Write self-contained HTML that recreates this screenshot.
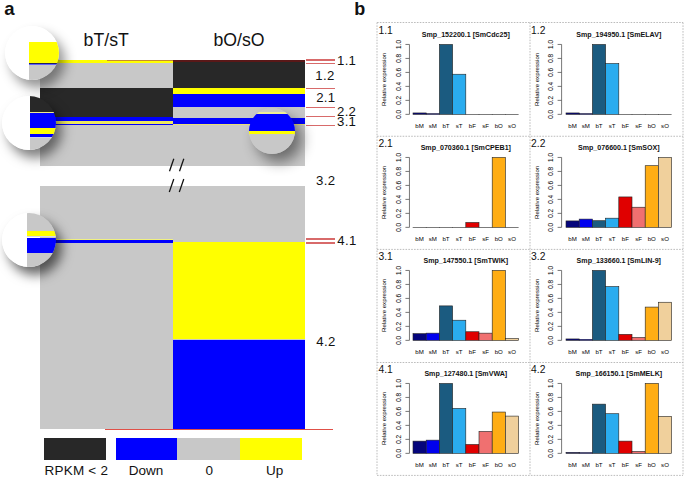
<!DOCTYPE html>
<html><head><meta charset="utf-8"><style>
html,body{margin:0;padding:0;background:#fff;}
body{width:685px;height:480px;position:relative;overflow:hidden;font-family:"Liberation Sans", sans-serif;color:#111;}
</style></head><body>
<div style="position:absolute;left:40px;top:60px;width:265.3px;height:106.3px;background:#c8c8c8;"></div>
<div style="position:absolute;left:40px;top:59.5px;width:132.5px;height:3.3px;background:#ffff00;"></div>
<div style="position:absolute;left:40px;top:88.4px;width:132.5px;height:28.9px;background:#282828;"></div>
<div style="position:absolute;left:40px;top:117.3px;width:132.5px;height:4.1px;background:#0000ff;"></div>
<div style="position:absolute;left:40px;top:121.4px;width:132.5px;height:2.2px;background:#ece860;"></div>
<div style="position:absolute;left:40px;top:123.6px;width:132.5px;height:1.2px;background:#0000ff;"></div>
<div style="position:absolute;left:172.5px;top:59.5px;width:132.8px;height:2.7px;background:#5a1818;"></div>
<div style="position:absolute;left:172.5px;top:62.2px;width:132.8px;height:26.2px;background:#282828;"></div>
<div style="position:absolute;left:172.5px;top:88.4px;width:132.8px;height:5.4px;background:#ffff00;"></div>
<div style="position:absolute;left:172.5px;top:93.8px;width:132.8px;height:0.5px;background:#8080a0;"></div>
<div style="position:absolute;left:172.5px;top:94.3px;width:132.8px;height:12.5px;background:#0000ff;"></div>
<div style="position:absolute;left:172.5px;top:117.5px;width:132.8px;height:6.3px;background:#0000ff;"></div>
<div style="position:absolute;left:172.5px;top:123.7px;width:132.8px;height:1.4px;background:#e8e078;"></div>
<div style="position:absolute;left:107px;top:59.5px;width:65.5px;height:1.3px;background:#c88a30;"></div>
<div style="position:absolute;left:40px;top:186px;width:265.3px;height:243px;background:#c8c8c8;"></div>
<div style="position:absolute;left:40px;top:238.6px;width:132.5px;height:1.0px;background:#f0f080;"></div>
<div style="position:absolute;left:40px;top:239.6px;width:132.5px;height:3.2px;background:#0000ff;"></div>
<div style="position:absolute;left:172.5px;top:242.2px;width:132.8px;height:97.3px;background:#ffff00;"></div>
<div style="position:absolute;left:172.5px;top:339.5px;width:132.8px;height:89.5px;background:#0000ff;"></div>
<div style="position:absolute;left:104.6px;top:428.5px;width:228.1px;height:1.1px;background:#e05048;"></div>
<div style="position:absolute;left:305.9px;top:59.25px;width:28.9px;height:1.3px;background:#d86a6a;"></div>
<div style="position:absolute;left:305.9px;top:63.2px;width:28.9px;height:1.3px;background:#d86a6a;"></div>
<div style="position:absolute;left:305.9px;top:87.85px;width:28.9px;height:1.3px;background:#d86a6a;"></div>
<div style="position:absolute;left:305.9px;top:106.65px;width:28.9px;height:1.3px;background:#d86a6a;"></div>
<div style="position:absolute;left:305.9px;top:115.95px;width:28.9px;height:1.3px;background:#d86a6a;"></div>
<div style="position:absolute;left:305.9px;top:125.05px;width:28.9px;height:1.3px;background:#d86a6a;"></div>
<div style="position:absolute;left:305.9px;top:238.25px;width:28.9px;height:1.3px;background:#d86a6a;"></div>
<div style="position:absolute;left:305.9px;top:242.45px;width:28.9px;height:1.3px;background:#d86a6a;"></div>
<div style="position:absolute;left:4.3px;top:-0.3px;font-size:18.5px;font-weight:bold;line-height:1;white-space:nowrap;">a</div>
<div style="position:absolute;left:83.6px;top:32.0px;font-size:17.7px;font-weight:normal;line-height:1;white-space:nowrap;">bT/sT</div>
<div style="position:absolute;left:213.5px;top:32.0px;font-size:17.7px;font-weight:normal;line-height:1;white-space:nowrap;">bO/sO</div>
<div style="position:absolute;left:337.0px;top:54.4px;font-size:13.2px;font-weight:normal;line-height:1;white-space:nowrap;letter-spacing:0.3px">1.1</div>
<div style="position:absolute;left:315.3px;top:69.4px;font-size:13.2px;font-weight:normal;line-height:1;white-space:nowrap;letter-spacing:0.3px">1.2</div>
<div style="position:absolute;left:316.2px;top:91.4px;font-size:13.2px;font-weight:normal;line-height:1;white-space:nowrap;letter-spacing:0.3px">2.1</div>
<div style="position:absolute;left:337.0px;top:104.6px;font-size:13.2px;font-weight:normal;line-height:1;white-space:nowrap;letter-spacing:0.3px">2.2</div>
<div style="position:absolute;left:337.0px;top:115.2px;font-size:13.2px;font-weight:normal;line-height:1;white-space:nowrap;letter-spacing:0.3px">3.1</div>
<div style="position:absolute;left:316.1px;top:173.9px;font-size:13.2px;font-weight:normal;line-height:1;white-space:nowrap;letter-spacing:0.3px">3.2</div>
<div style="position:absolute;left:337.3px;top:234.0px;font-size:13.2px;font-weight:normal;line-height:1;white-space:nowrap;letter-spacing:0.3px">4.1</div>
<div style="position:absolute;left:316.3px;top:334.8px;font-size:13.2px;font-weight:normal;line-height:1;white-space:nowrap;letter-spacing:0.3px">4.2</div>
<svg style="position:absolute;left:0;top:0" width="685" height="480">
<g stroke="#111" stroke-width="1.25" fill="none">
<line x1="173.8" y1="158.8" x2="169.5" y2="171.2"/>
<line x1="183.8" y1="158.8" x2="179.5" y2="171.2"/>
<line x1="173.8" y1="179" x2="169.3" y2="192"/>
<line x1="183.8" y1="179" x2="179.3" y2="192"/>
</g></svg>
<div style="position:absolute;left:4.6px;top:25.8px;width:54px;height:54px;border-radius:50%;overflow:hidden;background:transparent;box-shadow:6px 8px 12px rgba(0,0,0,0.42)"><div style="position:absolute;left:0;top:0;width:24.6px;height:54px;background:#fff"></div><div style="position:absolute;left:24.6px;top:-5.8px;width:54px;height:21.9px;background:#fff"></div><div style="position:absolute;left:24.6px;top:16.1px;width:54px;height:20.8px;background:#ffff00"></div><div style="position:absolute;left:24.6px;top:36.9px;width:54px;height:1.0px;background:#202060"></div><div style="position:absolute;left:24.6px;top:37.9px;width:54px;height:1.3px;background:#6060ff"></div><div style="position:absolute;left:24.6px;top:39.2px;width:54px;height:25px;background:#c8c8c8"></div></div>
<div style="position:absolute;left:2px;top:96px;width:54px;height:54px;border-radius:50%;overflow:hidden;background:transparent;box-shadow:6px 8px 12px rgba(0,0,0,0.5)"><div style="position:absolute;left:0;top:0;width:28px;height:54px;background:#fff"></div><div style="position:absolute;left:28px;top:-6px;width:54px;height:21.5px;background:#282828"></div><div style="position:absolute;left:28px;top:15.5px;width:54px;height:1.2px;background:#f0ec90"></div><div style="position:absolute;left:28px;top:16.7px;width:54px;height:15.0px;background:#0000ff"></div><div style="position:absolute;left:28px;top:31.9px;width:54px;height:5.7px;background:#ffff00"></div><div style="position:absolute;left:28px;top:37.6px;width:54px;height:3.6px;background:#0000ff"></div><div style="position:absolute;left:28px;top:41.2px;width:54px;height:1.0px;background:#d0d0e8"></div><div style="position:absolute;left:28px;top:42.2px;width:54px;height:21.8px;background:#c8c8c8"></div></div>
<div style="position:absolute;left:1.5px;top:213px;width:54px;height:54px;border-radius:50%;overflow:hidden;background:transparent;box-shadow:6px 8px 12px rgba(0,0,0,0.6)"><div style="position:absolute;left:0;top:0;width:25.5px;height:54px;background:#fff"></div><div style="position:absolute;left:25.5px;top:-13px;width:54px;height:30.8px;background:#c8c8c8"></div><div style="position:absolute;left:25.5px;top:17.8px;width:54px;height:5.5px;background:#ffff00"></div><div style="position:absolute;left:25.5px;top:23.3px;width:54px;height:1.2px;background:#d8d8ea"></div><div style="position:absolute;left:25.5px;top:24.5px;width:54px;height:15.3px;background:#0000ff"></div><div style="position:absolute;left:25.5px;top:39.8px;width:54px;height:27.2px;background:#c8c8c8"></div></div>
<div style="position:absolute;left:248.8px;top:107.8px;width:46.6px;height:46.6px;border-radius:50%;overflow:hidden;background:transparent;box-shadow:7px 8px 14px rgba(0,0,0,0.47)"><div style="position:absolute;left:0;top:-7.8px;width:46.6px;height:12.2px;background:#c8c8c8"></div><div style="position:absolute;left:0;top:4.3px;width:46.6px;height:1.7px;background:#eeee98"></div><div style="position:absolute;left:0;top:6.0px;width:46.6px;height:0.6px;background:#c8c8c8"></div><div style="position:absolute;left:0;top:6.6px;width:46.6px;height:16.9px;background:#0000ff"></div><div style="position:absolute;left:0;top:23.5px;width:46.6px;height:3.3px;background:#ffff00"></div><div style="position:absolute;left:0;top:26.5px;width:46.6px;height:25.7px;background:#c8c8c8"></div></div>
<div style="position:absolute;left:44px;top:438px;width:62.4px;height:21.5px;background:#282828;"></div>
<div style="position:absolute;left:115.5px;top:438px;width:61.6px;height:21.5px;background:#0000ff;"></div>
<div style="position:absolute;left:177.1px;top:438px;width:63px;height:21.5px;background:#c8c8c8;"></div>
<div style="position:absolute;left:240.1px;top:438px;width:61.9px;height:21.5px;background:#ffff00;"></div>
<div style="position:absolute;left:44.6px;top:464.1px;font-size:13.5px;font-weight:normal;line-height:1;white-space:nowrap;letter-spacing:0.2px">RPKM &lt; 2</div>
<div style="position:absolute;left:128.8px;top:464.1px;font-size:13.5px;font-weight:normal;line-height:1;white-space:nowrap;">Down</div>
<div style="position:absolute;left:205.5px;top:464.1px;font-size:13.5px;font-weight:normal;line-height:1;white-space:nowrap;">0</div>
<div style="position:absolute;left:266px;top:464.1px;font-size:13.5px;font-weight:normal;line-height:1;white-space:nowrap;">Up</div>
<div style="position:absolute;left:354.3px;top:0.4px;font-size:18px;font-weight:bold;line-height:1;white-space:nowrap;">b</div>
<svg style="position:absolute;left:0;top:0" width="685" height="480"><g stroke="#bcbcbc" stroke-width="1" stroke-dasharray="1.6 1.25" fill="none">
<line x1="377" y1="22.5" x2="377" y2="475.4"/>
<line x1="530" y1="22.5" x2="530" y2="475.4"/>
<line x1="683" y1="22.5" x2="683" y2="475.4"/>
<line x1="377" y1="22.5" x2="683" y2="22.5"/>
<line x1="377" y1="136.25" x2="683" y2="136.25"/>
<line x1="377" y1="249.4" x2="683" y2="249.4"/>
<line x1="377" y1="362.5" x2="683" y2="362.5"/>
<line x1="377" y1="475.4" x2="683" y2="475.4"/>
</g></svg>
<div style="position:absolute;left:378.5px;top:25.85px;font-size:10.3px;font-weight:normal;line-height:1;white-space:nowrap;">1.1</div>
<div style="position:absolute;left:531.1px;top:25.85px;font-size:10.3px;font-weight:normal;line-height:1;white-space:nowrap;">1.2</div>
<div style="position:absolute;left:378.5px;top:138.85px;font-size:10.3px;font-weight:normal;line-height:1;white-space:nowrap;">2.1</div>
<div style="position:absolute;left:531.1px;top:138.85px;font-size:10.3px;font-weight:normal;line-height:1;white-space:nowrap;">2.2</div>
<div style="position:absolute;left:378.5px;top:251.85px;font-size:10.3px;font-weight:normal;line-height:1;white-space:nowrap;">3.1</div>
<div style="position:absolute;left:531.1px;top:251.85px;font-size:10.3px;font-weight:normal;line-height:1;white-space:nowrap;">3.2</div>
<div style="position:absolute;left:378.5px;top:364.85px;font-size:10.3px;font-weight:normal;line-height:1;white-space:nowrap;">4.1</div>
<div style="position:absolute;left:531.1px;top:364.85px;font-size:10.3px;font-weight:normal;line-height:1;white-space:nowrap;">4.2</div>
<svg style="position:absolute;left:0;top:0" width="685" height="480"><text x="465.8" y="36.5" font-size="7.1" font-weight="bold" text-anchor="middle" fill="#111">Smp_152200.1 [SmCdc25]</text><g stroke="#555" stroke-width="0.8"><line x1="409.45" y1="44.45" x2="409.45" y2="114.35"/><line x1="405.45" y1="114.35" x2="409.45" y2="114.35"/><line x1="405.45" y1="100.37" x2="409.45" y2="100.37"/><line x1="405.45" y1="86.39" x2="409.45" y2="86.39"/><line x1="405.45" y1="72.41" x2="409.45" y2="72.41"/><line x1="405.45" y1="58.43" x2="409.45" y2="58.43"/><line x1="405.45" y1="44.45" x2="409.45" y2="44.45"/></g><text transform="translate(400.95,114.35) rotate(-90)" font-size="6.4" text-anchor="middle" fill="#000">0.0</text><text transform="translate(400.95,100.37) rotate(-90)" font-size="6.4" text-anchor="middle" fill="#000">0.2</text><text transform="translate(400.95,86.39) rotate(-90)" font-size="6.4" text-anchor="middle" fill="#000">0.4</text><text transform="translate(400.95,72.41) rotate(-90)" font-size="6.4" text-anchor="middle" fill="#000">0.6</text><text transform="translate(400.95,58.43) rotate(-90)" font-size="6.4" text-anchor="middle" fill="#000">0.8</text><text transform="translate(400.95,44.45) rotate(-90)" font-size="6.4" text-anchor="middle" fill="#000">1.0</text><text transform="translate(386.45,79.4) rotate(-90)" font-size="6.1" text-anchor="middle" fill="#000">Relative expression</text><rect x="413.0" y="112.95" width="13.2" height="1.4" fill="#05057c" stroke="#222" stroke-width="0.6"/><text x="419.6" y="127.75" font-size="6.1" text-anchor="middle" fill="#000">bM</text><rect x="426.2" y="113.65" width="13.2" height="0.7" fill="#0000ee" stroke="#222" stroke-width="0.6"/><text x="432.8" y="127.75" font-size="6.1" text-anchor="middle" fill="#000">sM</text><rect x="439.4" y="44.45" width="13.2" height="69.9" fill="#1b5b80" stroke="#222" stroke-width="0.6"/><text x="446.0" y="127.75" font-size="6.1" text-anchor="middle" fill="#000">bT</text><rect x="452.6" y="74.23" width="13.2" height="40.12" fill="#2aacef" stroke="#222" stroke-width="0.6"/><text x="459.2" y="127.75" font-size="6.1" text-anchor="middle" fill="#000">sT</text><rect x="465.8" y="114.35" width="13.2" height="0.01" fill="#e00000" stroke="#222" stroke-width="0.6"/><text x="472.4" y="127.75" font-size="6.1" text-anchor="middle" fill="#000">bF</text><rect x="479.0" y="114.35" width="13.2" height="0.01" fill="#f07070" stroke="#222" stroke-width="0.6"/><text x="485.6" y="127.75" font-size="6.1" text-anchor="middle" fill="#000">sF</text><rect x="492.2" y="114.35" width="13.2" height="0.01" fill="#ffad14" stroke="#222" stroke-width="0.6"/><text x="498.8" y="127.75" font-size="6.1" text-anchor="middle" fill="#000">bO</text><rect x="505.4" y="114.35" width="13.2" height="0.01" fill="#f0d09c" stroke="#222" stroke-width="0.6"/><text x="512.0" y="127.75" font-size="6.1" text-anchor="middle" fill="#000">sO</text><text x="618.8" y="36.5" font-size="7.1" font-weight="bold" text-anchor="middle" fill="#111">Smp_194950.1 [SmELAV]</text><g stroke="#555" stroke-width="0.8"><line x1="561.6" y1="44.45" x2="561.6" y2="114.35"/><line x1="557.6" y1="114.35" x2="561.6" y2="114.35"/><line x1="557.6" y1="100.37" x2="561.6" y2="100.37"/><line x1="557.6" y1="86.39" x2="561.6" y2="86.39"/><line x1="557.6" y1="72.41" x2="561.6" y2="72.41"/><line x1="557.6" y1="58.43" x2="561.6" y2="58.43"/><line x1="557.6" y1="44.45" x2="561.6" y2="44.45"/></g><text transform="translate(553.1,114.35) rotate(-90)" font-size="6.4" text-anchor="middle" fill="#000">0.0</text><text transform="translate(553.1,100.37) rotate(-90)" font-size="6.4" text-anchor="middle" fill="#000">0.2</text><text transform="translate(553.1,86.39) rotate(-90)" font-size="6.4" text-anchor="middle" fill="#000">0.4</text><text transform="translate(553.1,72.41) rotate(-90)" font-size="6.4" text-anchor="middle" fill="#000">0.6</text><text transform="translate(553.1,58.43) rotate(-90)" font-size="6.4" text-anchor="middle" fill="#000">0.8</text><text transform="translate(553.1,44.45) rotate(-90)" font-size="6.4" text-anchor="middle" fill="#000">1.0</text><text transform="translate(538.6,79.4) rotate(-90)" font-size="6.1" text-anchor="middle" fill="#000">Relative expression</text><rect x="566.0" y="112.95" width="13.2" height="1.4" fill="#05057c" stroke="#222" stroke-width="0.6"/><text x="572.6" y="127.75" font-size="6.1" text-anchor="middle" fill="#000">bM</text><rect x="579.2" y="113.65" width="13.2" height="0.7" fill="#0000ee" stroke="#222" stroke-width="0.6"/><text x="585.8" y="127.75" font-size="6.1" text-anchor="middle" fill="#000">sM</text><rect x="592.4" y="44.45" width="13.2" height="69.9" fill="#1b5b80" stroke="#222" stroke-width="0.6"/><text x="599.0" y="127.75" font-size="6.1" text-anchor="middle" fill="#000">bT</text><rect x="605.6" y="63.53" width="13.2" height="50.82" fill="#2aacef" stroke="#222" stroke-width="0.6"/><text x="612.2" y="127.75" font-size="6.1" text-anchor="middle" fill="#000">sT</text><rect x="618.8" y="114.35" width="13.2" height="0.01" fill="#e00000" stroke="#222" stroke-width="0.6"/><text x="625.4" y="127.75" font-size="6.1" text-anchor="middle" fill="#000">bF</text><rect x="632.0" y="114.35" width="13.2" height="0.01" fill="#f07070" stroke="#222" stroke-width="0.6"/><text x="638.6" y="127.75" font-size="6.1" text-anchor="middle" fill="#000">sF</text><rect x="645.2" y="114.35" width="13.2" height="0.01" fill="#ffad14" stroke="#222" stroke-width="0.6"/><text x="651.8" y="127.75" font-size="6.1" text-anchor="middle" fill="#000">bO</text><rect x="658.4" y="114.35" width="13.2" height="0.01" fill="#f0d09c" stroke="#222" stroke-width="0.6"/><text x="665.0" y="127.75" font-size="6.1" text-anchor="middle" fill="#000">sO</text><text x="465.8" y="149.5" font-size="7.1" font-weight="bold" text-anchor="middle" fill="#111">Smp_070360.1 [SmCPEB1]</text><g stroke="#555" stroke-width="0.8"><line x1="409.45" y1="157.45" x2="409.45" y2="227.35"/><line x1="405.45" y1="227.35" x2="409.45" y2="227.35"/><line x1="405.45" y1="213.37" x2="409.45" y2="213.37"/><line x1="405.45" y1="199.39" x2="409.45" y2="199.39"/><line x1="405.45" y1="185.41" x2="409.45" y2="185.41"/><line x1="405.45" y1="171.43" x2="409.45" y2="171.43"/><line x1="405.45" y1="157.45" x2="409.45" y2="157.45"/></g><text transform="translate(400.95,227.35) rotate(-90)" font-size="6.4" text-anchor="middle" fill="#000">0.0</text><text transform="translate(400.95,213.37) rotate(-90)" font-size="6.4" text-anchor="middle" fill="#000">0.2</text><text transform="translate(400.95,199.39) rotate(-90)" font-size="6.4" text-anchor="middle" fill="#000">0.4</text><text transform="translate(400.95,185.41) rotate(-90)" font-size="6.4" text-anchor="middle" fill="#000">0.6</text><text transform="translate(400.95,171.43) rotate(-90)" font-size="6.4" text-anchor="middle" fill="#000">0.8</text><text transform="translate(400.95,157.45) rotate(-90)" font-size="6.4" text-anchor="middle" fill="#000">1.0</text><text transform="translate(386.45,192.4) rotate(-90)" font-size="6.1" text-anchor="middle" fill="#000">Relative expression</text><rect x="413.0" y="227.35" width="13.2" height="0.01" fill="#05057c" stroke="#222" stroke-width="0.6"/><text x="419.6" y="240.75" font-size="6.1" text-anchor="middle" fill="#000">bM</text><rect x="426.2" y="227.35" width="13.2" height="0.01" fill="#0000ee" stroke="#222" stroke-width="0.6"/><text x="432.8" y="240.75" font-size="6.1" text-anchor="middle" fill="#000">sM</text><rect x="439.4" y="227.35" width="13.2" height="0.01" fill="#1b5b80" stroke="#222" stroke-width="0.6"/><text x="446.0" y="240.75" font-size="6.1" text-anchor="middle" fill="#000">bT</text><rect x="452.6" y="227.35" width="13.2" height="0.01" fill="#2aacef" stroke="#222" stroke-width="0.6"/><text x="459.2" y="240.75" font-size="6.1" text-anchor="middle" fill="#000">sT</text><rect x="465.8" y="222.46" width="13.2" height="4.89" fill="#e00000" stroke="#222" stroke-width="0.6"/><text x="472.4" y="240.75" font-size="6.1" text-anchor="middle" fill="#000">bF</text><rect x="479.0" y="227.35" width="13.2" height="0.01" fill="#f07070" stroke="#222" stroke-width="0.6"/><text x="485.6" y="240.75" font-size="6.1" text-anchor="middle" fill="#000">sF</text><rect x="492.2" y="157.45" width="13.2" height="69.9" fill="#ffad14" stroke="#222" stroke-width="0.6"/><text x="498.8" y="240.75" font-size="6.1" text-anchor="middle" fill="#000">bO</text><rect x="505.4" y="227.35" width="13.2" height="0.01" fill="#f0d09c" stroke="#222" stroke-width="0.6"/><text x="512.0" y="240.75" font-size="6.1" text-anchor="middle" fill="#000">sO</text><text x="618.8" y="149.5" font-size="7.1" font-weight="bold" text-anchor="middle" fill="#111">Smp_076600.1 [SmSOX]</text><g stroke="#555" stroke-width="0.8"><line x1="561.6" y1="157.45" x2="561.6" y2="227.35"/><line x1="557.6" y1="227.35" x2="561.6" y2="227.35"/><line x1="557.6" y1="213.37" x2="561.6" y2="213.37"/><line x1="557.6" y1="199.39" x2="561.6" y2="199.39"/><line x1="557.6" y1="185.41" x2="561.6" y2="185.41"/><line x1="557.6" y1="171.43" x2="561.6" y2="171.43"/><line x1="557.6" y1="157.45" x2="561.6" y2="157.45"/></g><text transform="translate(553.1,227.35) rotate(-90)" font-size="6.4" text-anchor="middle" fill="#000">0.0</text><text transform="translate(553.1,213.37) rotate(-90)" font-size="6.4" text-anchor="middle" fill="#000">0.2</text><text transform="translate(553.1,199.39) rotate(-90)" font-size="6.4" text-anchor="middle" fill="#000">0.4</text><text transform="translate(553.1,185.41) rotate(-90)" font-size="6.4" text-anchor="middle" fill="#000">0.6</text><text transform="translate(553.1,171.43) rotate(-90)" font-size="6.4" text-anchor="middle" fill="#000">0.8</text><text transform="translate(553.1,157.45) rotate(-90)" font-size="6.4" text-anchor="middle" fill="#000">1.0</text><text transform="translate(538.6,192.4) rotate(-90)" font-size="6.1" text-anchor="middle" fill="#000">Relative expression</text><rect x="566.0" y="220.92" width="13.2" height="6.43" fill="#05057c" stroke="#222" stroke-width="0.6"/><text x="572.6" y="240.75" font-size="6.1" text-anchor="middle" fill="#000">bM</text><rect x="579.2" y="219.1" width="13.2" height="8.25" fill="#0000ee" stroke="#222" stroke-width="0.6"/><text x="585.8" y="240.75" font-size="6.1" text-anchor="middle" fill="#000">sM</text><rect x="592.4" y="220.71" width="13.2" height="6.64" fill="#1b5b80" stroke="#222" stroke-width="0.6"/><text x="599.0" y="240.75" font-size="6.1" text-anchor="middle" fill="#000">bT</text><rect x="605.6" y="218.19" width="13.2" height="9.16" fill="#2aacef" stroke="#222" stroke-width="0.6"/><text x="612.2" y="240.75" font-size="6.1" text-anchor="middle" fill="#000">sT</text><rect x="618.8" y="196.94" width="13.2" height="30.41" fill="#e00000" stroke="#222" stroke-width="0.6"/><text x="625.4" y="240.75" font-size="6.1" text-anchor="middle" fill="#000">bF</text><rect x="632.0" y="207.22" width="13.2" height="20.13" fill="#f07070" stroke="#222" stroke-width="0.6"/><text x="638.6" y="240.75" font-size="6.1" text-anchor="middle" fill="#000">sF</text><rect x="645.2" y="165.7" width="13.2" height="61.65" fill="#ffad14" stroke="#222" stroke-width="0.6"/><text x="651.8" y="240.75" font-size="6.1" text-anchor="middle" fill="#000">bO</text><rect x="658.4" y="157.45" width="13.2" height="69.9" fill="#f0d09c" stroke="#222" stroke-width="0.6"/><text x="665.0" y="240.75" font-size="6.1" text-anchor="middle" fill="#000">sO</text><text x="465.8" y="262.5" font-size="7.1" font-weight="bold" text-anchor="middle" fill="#111">Smp_147550.1 [SmTWIK]</text><g stroke="#555" stroke-width="0.8"><line x1="409.45" y1="270.45" x2="409.45" y2="340.35"/><line x1="405.45" y1="340.35" x2="409.45" y2="340.35"/><line x1="405.45" y1="326.37" x2="409.45" y2="326.37"/><line x1="405.45" y1="312.39" x2="409.45" y2="312.39"/><line x1="405.45" y1="298.41" x2="409.45" y2="298.41"/><line x1="405.45" y1="284.43" x2="409.45" y2="284.43"/><line x1="405.45" y1="270.45" x2="409.45" y2="270.45"/></g><text transform="translate(400.95,340.35) rotate(-90)" font-size="6.4" text-anchor="middle" fill="#000">0.0</text><text transform="translate(400.95,326.37) rotate(-90)" font-size="6.4" text-anchor="middle" fill="#000">0.2</text><text transform="translate(400.95,312.39) rotate(-90)" font-size="6.4" text-anchor="middle" fill="#000">0.4</text><text transform="translate(400.95,298.41) rotate(-90)" font-size="6.4" text-anchor="middle" fill="#000">0.6</text><text transform="translate(400.95,284.43) rotate(-90)" font-size="6.4" text-anchor="middle" fill="#000">0.8</text><text transform="translate(400.95,270.45) rotate(-90)" font-size="6.4" text-anchor="middle" fill="#000">1.0</text><text transform="translate(386.45,305.4) rotate(-90)" font-size="6.1" text-anchor="middle" fill="#000">Relative expression</text><rect x="413.0" y="333.64" width="13.2" height="6.71" fill="#05057c" stroke="#222" stroke-width="0.6"/><text x="419.6" y="353.75" font-size="6.1" text-anchor="middle" fill="#000">bM</text><rect x="426.2" y="333.15" width="13.2" height="7.2" fill="#0000ee" stroke="#222" stroke-width="0.6"/><text x="432.8" y="353.75" font-size="6.1" text-anchor="middle" fill="#000">sM</text><rect x="439.4" y="305.89" width="13.2" height="34.46" fill="#1b5b80" stroke="#222" stroke-width="0.6"/><text x="446.0" y="353.75" font-size="6.1" text-anchor="middle" fill="#000">bT</text><rect x="452.6" y="320.22" width="13.2" height="20.13" fill="#2aacef" stroke="#222" stroke-width="0.6"/><text x="459.2" y="353.75" font-size="6.1" text-anchor="middle" fill="#000">sT</text><rect x="465.8" y="331.75" width="13.2" height="8.6" fill="#e00000" stroke="#222" stroke-width="0.6"/><text x="472.4" y="353.75" font-size="6.1" text-anchor="middle" fill="#000">bF</text><rect x="479.0" y="333.15" width="13.2" height="7.2" fill="#f07070" stroke="#222" stroke-width="0.6"/><text x="485.6" y="353.75" font-size="6.1" text-anchor="middle" fill="#000">sF</text><rect x="492.2" y="270.45" width="13.2" height="69.9" fill="#ffad14" stroke="#222" stroke-width="0.6"/><text x="498.8" y="353.75" font-size="6.1" text-anchor="middle" fill="#000">bO</text><rect x="505.4" y="338.46" width="13.2" height="1.89" fill="#f0d09c" stroke="#222" stroke-width="0.6"/><text x="512.0" y="353.75" font-size="6.1" text-anchor="middle" fill="#000">sO</text><text x="618.8" y="262.5" font-size="7.1" font-weight="bold" text-anchor="middle" fill="#111">Smp_133660.1 [SmLIN-9]</text><g stroke="#555" stroke-width="0.8"><line x1="561.6" y1="270.45" x2="561.6" y2="340.35"/><line x1="557.6" y1="340.35" x2="561.6" y2="340.35"/><line x1="557.6" y1="326.37" x2="561.6" y2="326.37"/><line x1="557.6" y1="312.39" x2="561.6" y2="312.39"/><line x1="557.6" y1="298.41" x2="561.6" y2="298.41"/><line x1="557.6" y1="284.43" x2="561.6" y2="284.43"/><line x1="557.6" y1="270.45" x2="561.6" y2="270.45"/></g><text transform="translate(553.1,340.35) rotate(-90)" font-size="6.4" text-anchor="middle" fill="#000">0.0</text><text transform="translate(553.1,326.37) rotate(-90)" font-size="6.4" text-anchor="middle" fill="#000">0.2</text><text transform="translate(553.1,312.39) rotate(-90)" font-size="6.4" text-anchor="middle" fill="#000">0.4</text><text transform="translate(553.1,298.41) rotate(-90)" font-size="6.4" text-anchor="middle" fill="#000">0.6</text><text transform="translate(553.1,284.43) rotate(-90)" font-size="6.4" text-anchor="middle" fill="#000">0.8</text><text transform="translate(553.1,270.45) rotate(-90)" font-size="6.4" text-anchor="middle" fill="#000">1.0</text><text transform="translate(538.6,305.4) rotate(-90)" font-size="6.1" text-anchor="middle" fill="#000">Relative expression</text><rect x="566.0" y="338.95" width="13.2" height="1.4" fill="#05057c" stroke="#222" stroke-width="0.6"/><text x="572.6" y="353.75" font-size="6.1" text-anchor="middle" fill="#000">bM</text><rect x="579.2" y="339.37" width="13.2" height="0.98" fill="#0000ee" stroke="#222" stroke-width="0.6"/><text x="585.8" y="353.75" font-size="6.1" text-anchor="middle" fill="#000">sM</text><rect x="592.4" y="270.45" width="13.2" height="69.9" fill="#1b5b80" stroke="#222" stroke-width="0.6"/><text x="599.0" y="353.75" font-size="6.1" text-anchor="middle" fill="#000">bT</text><rect x="605.6" y="286.53" width="13.2" height="53.82" fill="#2aacef" stroke="#222" stroke-width="0.6"/><text x="612.2" y="353.75" font-size="6.1" text-anchor="middle" fill="#000">sT</text><rect x="618.8" y="334.34" width="13.2" height="6.01" fill="#e00000" stroke="#222" stroke-width="0.6"/><text x="625.4" y="353.75" font-size="6.1" text-anchor="middle" fill="#000">bF</text><rect x="632.0" y="337.48" width="13.2" height="2.87" fill="#f07070" stroke="#222" stroke-width="0.6"/><text x="638.6" y="353.75" font-size="6.1" text-anchor="middle" fill="#000">sF</text><rect x="645.2" y="307.08" width="13.2" height="33.27" fill="#ffad14" stroke="#222" stroke-width="0.6"/><text x="651.8" y="353.75" font-size="6.1" text-anchor="middle" fill="#000">bO</text><rect x="658.4" y="302.25" width="13.2" height="38.1" fill="#f0d09c" stroke="#222" stroke-width="0.6"/><text x="665.0" y="353.75" font-size="6.1" text-anchor="middle" fill="#000">sO</text><text x="465.8" y="375.5" font-size="7.1" font-weight="bold" text-anchor="middle" fill="#111">Smp_127480.1 [SmVWA]</text><g stroke="#555" stroke-width="0.8"><line x1="409.45" y1="383.45" x2="409.45" y2="453.35"/><line x1="405.45" y1="453.35" x2="409.45" y2="453.35"/><line x1="405.45" y1="439.37" x2="409.45" y2="439.37"/><line x1="405.45" y1="425.39" x2="409.45" y2="425.39"/><line x1="405.45" y1="411.41" x2="409.45" y2="411.41"/><line x1="405.45" y1="397.43" x2="409.45" y2="397.43"/><line x1="405.45" y1="383.45" x2="409.45" y2="383.45"/></g><text transform="translate(400.95,453.35) rotate(-90)" font-size="6.4" text-anchor="middle" fill="#000">0.0</text><text transform="translate(400.95,439.37) rotate(-90)" font-size="6.4" text-anchor="middle" fill="#000">0.2</text><text transform="translate(400.95,425.39) rotate(-90)" font-size="6.4" text-anchor="middle" fill="#000">0.4</text><text transform="translate(400.95,411.41) rotate(-90)" font-size="6.4" text-anchor="middle" fill="#000">0.6</text><text transform="translate(400.95,397.43) rotate(-90)" font-size="6.4" text-anchor="middle" fill="#000">0.8</text><text transform="translate(400.95,383.45) rotate(-90)" font-size="6.4" text-anchor="middle" fill="#000">1.0</text><text transform="translate(386.45,418.4) rotate(-90)" font-size="6.1" text-anchor="middle" fill="#000">Relative expression</text><rect x="413.0" y="441.12" width="13.2" height="12.23" fill="#05057c" stroke="#222" stroke-width="0.6"/><text x="419.6" y="466.75" font-size="6.1" text-anchor="middle" fill="#000">bM</text><rect x="426.2" y="440.14" width="13.2" height="13.21" fill="#0000ee" stroke="#222" stroke-width="0.6"/><text x="432.8" y="466.75" font-size="6.1" text-anchor="middle" fill="#000">sM</text><rect x="439.4" y="383.45" width="13.2" height="69.9" fill="#1b5b80" stroke="#222" stroke-width="0.6"/><text x="446.0" y="466.75" font-size="6.1" text-anchor="middle" fill="#000">bT</text><rect x="452.6" y="408.4" width="13.2" height="44.95" fill="#2aacef" stroke="#222" stroke-width="0.6"/><text x="459.2" y="466.75" font-size="6.1" text-anchor="middle" fill="#000">sT</text><rect x="465.8" y="444.47" width="13.2" height="8.88" fill="#e00000" stroke="#222" stroke-width="0.6"/><text x="472.4" y="466.75" font-size="6.1" text-anchor="middle" fill="#000">bF</text><rect x="479.0" y="431.47" width="13.2" height="21.88" fill="#f07070" stroke="#222" stroke-width="0.6"/><text x="485.6" y="466.75" font-size="6.1" text-anchor="middle" fill="#000">sF</text><rect x="492.2" y="412.04" width="13.2" height="41.31" fill="#ffad14" stroke="#222" stroke-width="0.6"/><text x="498.8" y="466.75" font-size="6.1" text-anchor="middle" fill="#000">bO</text><rect x="505.4" y="416.09" width="13.2" height="37.26" fill="#f0d09c" stroke="#222" stroke-width="0.6"/><text x="512.0" y="466.75" font-size="6.1" text-anchor="middle" fill="#000">sO</text><text x="618.8" y="375.5" font-size="7.1" font-weight="bold" text-anchor="middle" fill="#111">Smp_166150.1 [SmMELK]</text><g stroke="#555" stroke-width="0.8"><line x1="561.6" y1="383.45" x2="561.6" y2="453.35"/><line x1="557.6" y1="453.35" x2="561.6" y2="453.35"/><line x1="557.6" y1="439.37" x2="561.6" y2="439.37"/><line x1="557.6" y1="425.39" x2="561.6" y2="425.39"/><line x1="557.6" y1="411.41" x2="561.6" y2="411.41"/><line x1="557.6" y1="397.43" x2="561.6" y2="397.43"/><line x1="557.6" y1="383.45" x2="561.6" y2="383.45"/></g><text transform="translate(553.1,453.35) rotate(-90)" font-size="6.4" text-anchor="middle" fill="#000">0.0</text><text transform="translate(553.1,439.37) rotate(-90)" font-size="6.4" text-anchor="middle" fill="#000">0.2</text><text transform="translate(553.1,425.39) rotate(-90)" font-size="6.4" text-anchor="middle" fill="#000">0.4</text><text transform="translate(553.1,411.41) rotate(-90)" font-size="6.4" text-anchor="middle" fill="#000">0.6</text><text transform="translate(553.1,397.43) rotate(-90)" font-size="6.4" text-anchor="middle" fill="#000">0.8</text><text transform="translate(553.1,383.45) rotate(-90)" font-size="6.4" text-anchor="middle" fill="#000">1.0</text><text transform="translate(538.6,418.4) rotate(-90)" font-size="6.1" text-anchor="middle" fill="#000">Relative expression</text><rect x="566.0" y="452.37" width="13.2" height="0.98" fill="#05057c" stroke="#222" stroke-width="0.6"/><text x="572.6" y="466.75" font-size="6.1" text-anchor="middle" fill="#000">bM</text><rect x="579.2" y="452.65" width="13.2" height="0.7" fill="#0000ee" stroke="#222" stroke-width="0.6"/><text x="585.8" y="466.75" font-size="6.1" text-anchor="middle" fill="#000">sM</text><rect x="592.4" y="404.14" width="13.2" height="49.21" fill="#1b5b80" stroke="#222" stroke-width="0.6"/><text x="599.0" y="466.75" font-size="6.1" text-anchor="middle" fill="#000">bT</text><rect x="605.6" y="413.72" width="13.2" height="39.63" fill="#2aacef" stroke="#222" stroke-width="0.6"/><text x="612.2" y="466.75" font-size="6.1" text-anchor="middle" fill="#000">sT</text><rect x="618.8" y="441.12" width="13.2" height="12.23" fill="#e00000" stroke="#222" stroke-width="0.6"/><text x="625.4" y="466.75" font-size="6.1" text-anchor="middle" fill="#000">bF</text><rect x="632.0" y="451.46" width="13.2" height="1.89" fill="#f07070" stroke="#222" stroke-width="0.6"/><text x="638.6" y="466.75" font-size="6.1" text-anchor="middle" fill="#000">sF</text><rect x="645.2" y="383.45" width="13.2" height="69.9" fill="#ffad14" stroke="#222" stroke-width="0.6"/><text x="651.8" y="466.75" font-size="6.1" text-anchor="middle" fill="#000">bO</text><rect x="658.4" y="416.37" width="13.2" height="36.98" fill="#f0d09c" stroke="#222" stroke-width="0.6"/><text x="665.0" y="466.75" font-size="6.1" text-anchor="middle" fill="#000">sO</text></svg>
</body></html>
